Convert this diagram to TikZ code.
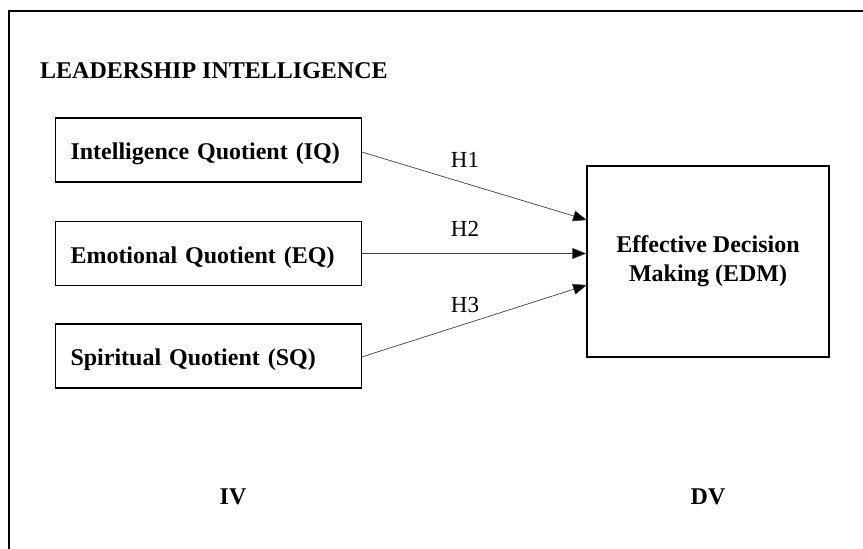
\documentclass[tikz,border=0pt]{standalone}
\usepackage{fontspec}
\setmainfont{Liberation Serif}
\usetikzlibrary{arrows.meta}
\begin{document}
\begin{tikzpicture}[x=1pt,y=-1pt,
  varbox/.style={draw,line width=1.3pt,minimum width=306pt,minimum height=64pt,
    text width=276pt,align=left,inner xsep=15pt,inner ysep=0pt,
    text height=21pt,text depth=2pt,
    font=\fontsize{24}{28}\selectfont\bfseries},
  dvbox/.style={draw,line width=1.3pt,minimum width=242pt,minimum height=191pt,
    font=\fontsize{24}{29}\selectfont\bfseries,align=center,inner sep=0pt},
  link/.style={draw=black!75,line width=0.7pt,-{Triangle[length=14pt,width=11pt,fill=black]}},
  hlabel/.style={font=\fontsize{23}{26}\selectfont},
  caption/.style={font=\fontsize{24}{28}\selectfont\bfseries}]
  \useasboundingbox (0,0) rectangle (863,549);
  % outer frame (open on the right and bottom)
  \draw[line width=2.5pt] (9,560) -- (9,11) -- (875,11);
  \node[caption,anchor=west,inner sep=0pt] (title) at (40,71) {LEADERSHIP INTELLIGENCE};
  % independent variables
  \node[varbox] (iq) at (208.5,150) {Intelligence Quotient (IQ)};
  \node[varbox] (eq) at (208.5,253.5) {Emotional Quotient (EQ)};
  \node[varbox] (sq) at (208.5,356) {Spiritual Quotient (SQ)};
  % dependent variable
  \node[dvbox] (edm) at (708,261.5) {Effective Decision\\Making (EDM)};
  % hypothesised paths
  \coordinate (iqout) at (361.7,152);
  \coordinate (sqout) at (361.7,357);
  \coordinate (edm1) at (587,220);
  \coordinate (edm3) at (587,285);
  \draw[link] (iqout) -- (edm1);
  \draw[link] (eq.east) -- (edm.west |- eq.east);
  \draw[link] (sqout) -- (edm3);
  \node[hlabel] (h1) at (465,160) {H1};
  \node[hlabel] (h2) at (465,229) {H2};
  \node[hlabel] (h3) at (465,305) {H3};
  \node[caption] (iv) at (233,497) {IV};
  \node[caption] (dv) at (708,497) {DV};
\end{tikzpicture}
\end{document}
